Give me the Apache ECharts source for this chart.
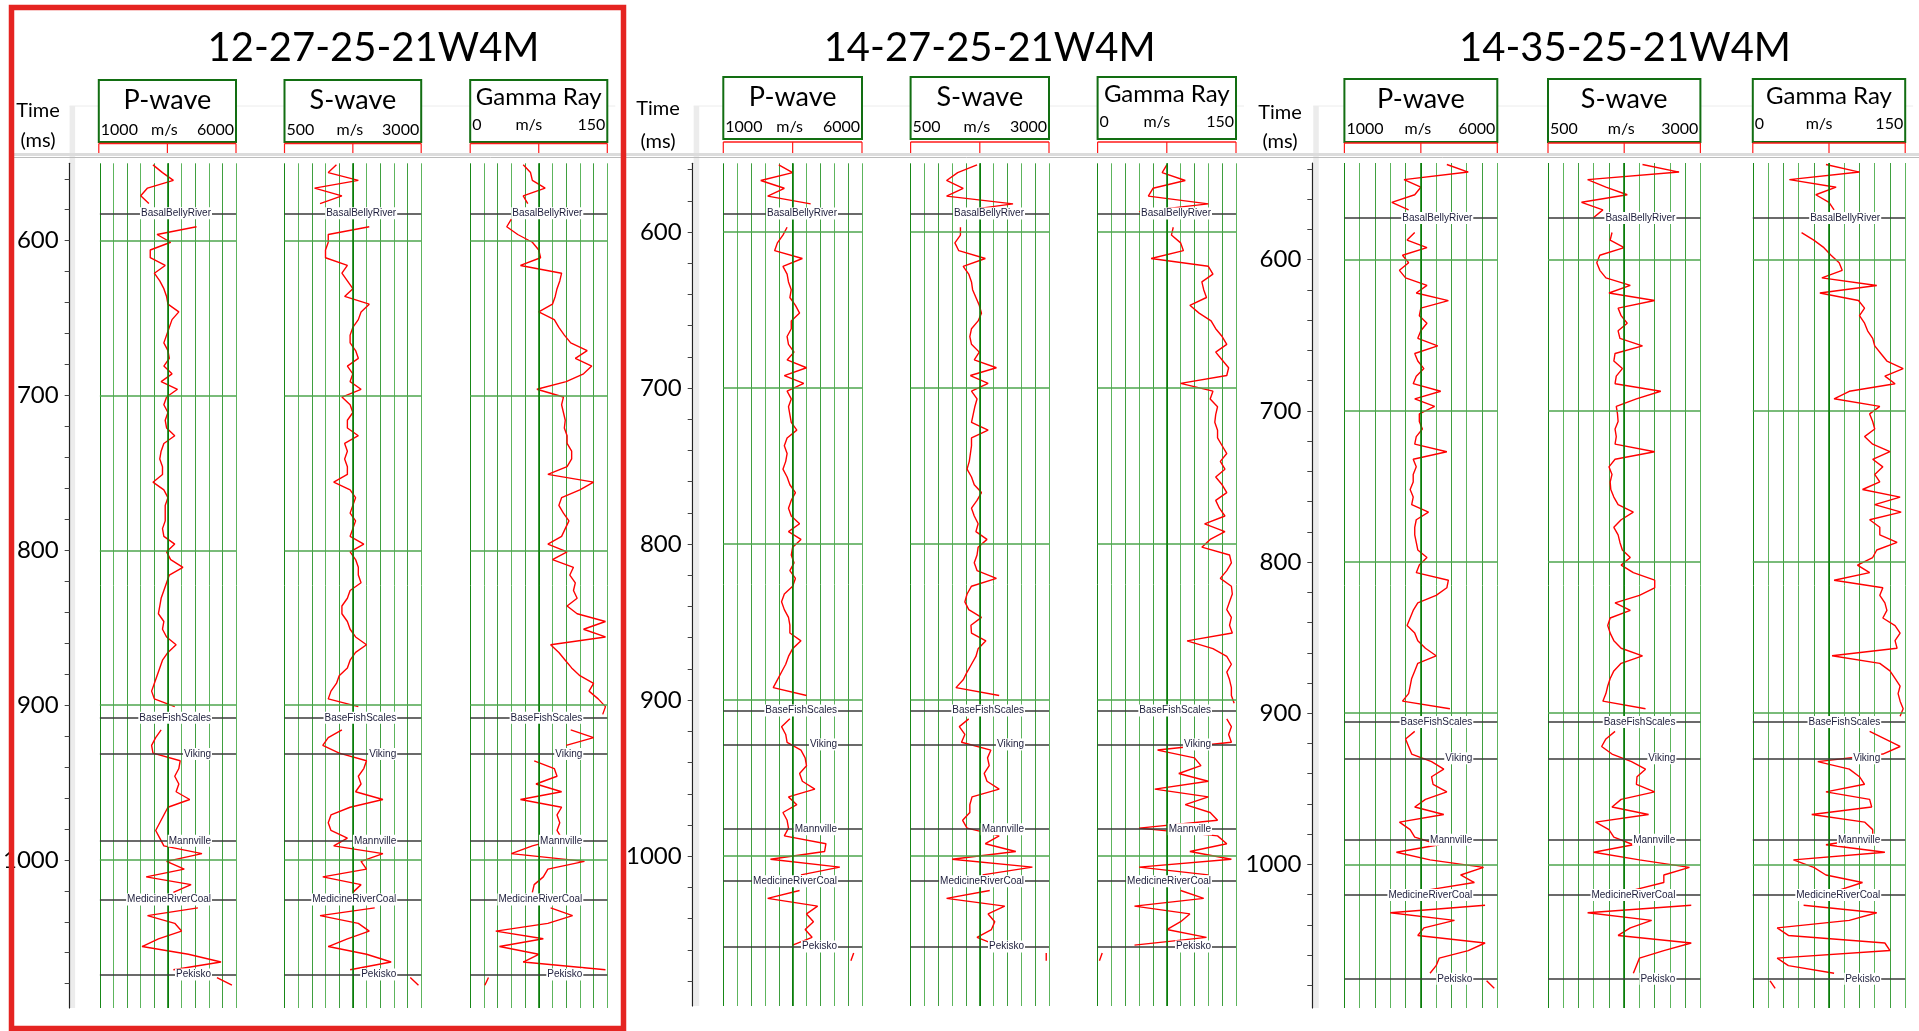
<!DOCTYPE html>
<html>
<head>
<meta charset="utf-8">
<script src="https://cdn.jsdelivr.net/npm/echarts@6/dist/echarts.min.js"></script>
<style>html,body{margin:0;padding:0;background:#fff;}#c{width:1919px;height:1031px;}</style>
</head>
<body>
<div id="c"></div>
<script>
// ---------------- DATA ----------------
const wellNames = ['12-27-25-21W4M', '14-27-25-21W4M', '14-35-25-21W4M'];
const trackNames = ['P-wave', 'S-wave', 'Gamma Ray'];
const trackMin = [1000, 500, 0];
const trackMax = [6000, 3000, 150];
const trackUnit = 'm/s';
const formationNames = ['BasalBellyRiver', 'BaseFishScales', 'Viking', 'Mannville', 'MedicineRiverCoal', 'Pekisko'];
const well1Tops = [582.3, 908.2, 931.6, 987.7, 1025.6, 1074.0];
const well2Tops = [588.2, 906.6, 928.4, 982.7, 1016.0, 1057.9];
const well3Tops = [572.4, 905.8, 929.8, 983.7, 1020.3, 1075.7];
const timeLabels = [600, 700, 800, 900, 1000];
const timeTicksA = [560,580,600,620,640,660,680,700,720,740,760,780,800,820,840,860,880,900,920,940,960,980,1000,1020,1040,1060,1080];
const timeTicksB = [540,560,580,600,620,640,660,680,700,720,740,760,780,800,820,840,860,880,900,920,940,960,980,1000,1020,1040,1060,1080];

const well1Time = [551,556,561,566,571,576,581,586,591,596,
 601,606,611,616,621,626,631,636,641,646,
 651,656,661,666,671,676,681,686,691,696,
 701,706,711,716,721,726,731,736,741,746,
 751,756,761,766,771,776,781,786,791,796,
 801,806,811,816,821,826,831,836,841,846,
 851,856,861,866,871,876,881,886,891,896,
 901,906,911,916,921,926,931,936,941,946,
 951,956,961,966,971,976,981,986,991,996,
 1001,1006,1011,1016,1021,1026,1031,1036,1041,1046,
 1051,1056,1061,1066,1071,1074,1076,1081];
const well1P = [2950,3300,3700,2750,2500,2800,null,null,4550,3100,
 3600,2850,2850,3400,3000,3200,3350,3450,3500,3900,
 3650,3550,3450,3350,3500,3550,3350,3650,3250,3850,
 3450,3350,3500,3400,3450,3750,3350,3250,3200,3300,
 3300,2950,3350,3500,3400,3400,3400,3300,3350,3750,
 3450,3600,4050,3550,3450,3350,3250,3200,3150,3350,
 3300,3450,3800,3500,3300,3200,3100,3000,2900,3000,
 3750,null,null,3250,3050,2900,2950,3950,3900,3750,
 3900,3800,4300,3500,3350,3200,3050,3200,3350,4750,
 3450,4100,2700,4350,3700,null,4600,2750,3750,4000,
 3150,2550,4250,5450,3700,null,5300,5850];
const well1S = [1450,1300,1850,1050,1550,1150,null,null,2050,1300,
 1300,1250,1250,1650,1550,1650,1750,1600,2050,1900,
 1850,1750,1700,1700,1800,1850,1650,1750,1700,1900,
 1550,1700,1750,1650,1650,1850,1600,1650,1600,1650,
 1650,1400,1700,1800,1750,1700,1800,1750,1700,1950,
 1700,1800,1850,1850,1900,1700,1650,1550,1550,1650,
 1700,1800,2000,1800,1700,1650,1500,1450,1350,1300,
 1850,null,null,1550,1300,1200,1500,2000,1950,1850,
 1900,1800,2300,1700,1350,1300,1350,1650,1400,2300,
 1900,2000,1200,1900,1750,null,2150,1150,1850,2050,
 1650,1300,2000,2450,1700,null,2800,2950];
const well1GR = [58,66,68,82,58,63,null,45,40,52,
 68,75,77,55,100,98,95,93,90,75,
 92,97,103,110,128,115,133,124,105,73,
 102,100,102,104,103,106,106,111,111,106,
 85,135,120,100,97,102,108,104,100,85,
 106,90,113,109,115,113,117,106,117,148,
 124,148,88,97,104,111,120,135,130,140,
 148,145,null,110,135,105,null,70,92,95,
 72,100,55,100,95,98,95,100,68,45,
 125,85,80,70,68,null,88,112,85,28,
 80,32,75,58,148,null,20,16];

const well2Time = [557,562,567,572,577,582,587,592,597,602,
 607,612,617,622,627,632,637,642,647,652,
 657,662,667,672,677,682,687,692,697,702,
 707,712,717,722,727,732,737,742,747,752,
 757,762,767,772,777,782,787,792,797,802,
 807,812,817,822,827,832,837,842,847,852,
 857,862,867,872,877,882,887,892,897,902,
 907,912,917,922,927,932,937,942,947,952,
 957,962,967,972,977,982,987,992,997,1002,
 1007,1012,1017,1022,1027,1032,1037,1042,1047,1052,
 1057,1059,1062,1067];
const well2P = [3000,3500,2350,3200,2600,4150,null,null,3300,3150,
 2950,2850,3850,3150,3300,3350,3450,3400,3600,3750,
 3450,3450,3300,3350,3550,3300,4000,3200,3900,3300,
 3450,3350,3400,3450,3650,3300,3200,3300,3250,3150,
 3300,3400,3600,3450,3350,3450,3750,3350,3800,3500,
 3450,3550,3400,3600,3500,3200,3100,3200,3350,3400,
 3400,3800,3500,3350,3250,3100,2950,2800,4000,null,
 null,3400,3100,3250,3300,3800,3950,4000,3750,3850,
 4300,3350,3650,3150,3300,3350,3200,4700,4650,2700,
 5200,3800,null,3750,2600,4400,4000,4250,3950,4200,
 3500,null,5700,5600];
const well2S = [1700,1350,1150,1450,1150,2350,1300,null,1400,1400,
 1300,1370,1850,1450,1550,1600,1620,1680,1740,1780,
 1720,1600,1570,1600,1740,1650,2050,1580,1900,1600,
 1700,1660,1630,1600,1900,1600,1600,1580,1560,1520,
 1600,1650,1780,1700,1600,1650,1720,1680,1880,1720,
 1700,1650,1700,2050,1600,1520,1480,1550,1780,1590,
 1600,1860,1720,1680,1600,1520,1450,1320,2100,null,
 null,1550,1380,1480,1420,1950,1890,1920,1830,1880,
 2100,1610,1570,1570,1440,1520,2100,1850,2400,1250,
 2700,1800,null,1930,1150,2200,1900,2020,1960,1700,
 2050,null,2950,2950];
const well2GR = [75,70,95,60,55,120,45,null,82,80,
 90,93,58,120,125,113,115,118,100,110,
 123,128,135,140,128,135,142,140,90,125,
 122,130,128,127,130,130,135,140,133,138,
 128,135,140,128,132,138,116,138,122,113,
 143,145,140,133,145,146,143,140,145,143,
 146,97,125,140,145,140,143,145,145,148,
 null,140,145,142,145,65,105,112,88,120,
 62,120,95,122,130,45,130,140,100,145,
 45,120,null,90,115,40,100,90,75,118,
 40,null,5,2];

const well3Time = [537,542,547,552,557,562,567,572,577,582,
 587,592,597,602,607,612,617,622,627,632,
 637,642,647,652,657,662,667,672,677,682,
 687,692,697,702,707,712,717,722,727,732,
 737,742,747,752,757,762,767,772,777,782,
 787,792,797,802,807,812,817,822,827,832,
 837,842,847,852,857,862,867,872,877,882,
 887,892,897,902,907,912,917,922,927,932,
 937,942,947,952,957,962,967,972,977,982,
 987,992,997,1002,1007,1012,1017,1022,1027,1032,
 1037,1042,1047,1052,1057,1062,1067,1072,1075,1077,1082];
const well3P = [4350,5050,2950,3500,3300,2550,3100,null,null,3300,
 3050,3700,2900,3100,2800,3000,3700,3350,4400,3500,
 3450,3700,3500,3400,4050,3300,3400,3600,3350,3250,
 4150,3300,3950,3450,3450,3550,3350,3300,4350,3250,
 3350,3250,3250,3150,3250,3200,3750,3350,3300,3300,
 3350,3400,3700,3450,3350,4400,4350,4000,3400,3250,
 3150,3050,3300,3400,3650,4000,3400,3300,3200,3150,
 3100,2900,4450,null,null,3300,3000,3100,3200,3850,
 4250,3850,3900,4350,3650,3300,4250,2800,3150,3300,
 4100,2700,3800,5550,4800,5250,3700,null,5600,2500,
 4600,3600,3400,5600,5050,4100,4000,3800,null,5650,5900];
const well3S = [2050,2650,1150,1450,1800,1050,1400,1250,null,1550,
 1520,1750,1350,1300,1350,1450,1850,1500,2250,1650,
 1700,1800,1650,1680,2050,1600,1580,1720,1620,1600,
 2350,1950,1620,1640,1650,1600,1620,1600,2250,1600,
 1500,1550,1520,1530,1580,1650,1900,1700,1580,1650,
 1680,1720,1850,1700,1900,2250,2250,2000,1600,1850,
 1520,1480,1520,1580,1700,2050,1700,1580,1520,1480,
 1450,1400,2100,null,null,1600,1450,1380,1550,1870,
 2100,1960,1950,2250,1700,1550,2150,1280,1500,1580,
 1900,1250,2000,2820,2400,2400,1900,null,2850,1150,
 2200,1850,1650,2850,2400,2000,1950,1900,null,2800,null];
const well3GR = [72,105,36,82,62,75,80,null,null,48,
 60,70,77,85,88,68,122,66,104,110,
 105,110,113,118,120,126,132,148,130,140,
 95,80,125,115,118,120,110,118,135,118,
 128,120,125,108,145,120,146,115,125,125,
 142,122,118,103,115,80,128,125,130,132,
 128,140,145,140,142,78,125,135,140,145,
 143,145,148,145,null,115,130,145,128,64,
 95,105,110,72,115,117,58,110,118,118,
 72,130,40,60,72,108,85,null,50,122,
 95,24,35,130,135,24,35,80,null,17,22];

// ---------------- LAYOUT (pixels) ----------------
const layout = [
  {tracks: [[98.8, 236], [284.5, 421.2], [470.2, 607.3]], axisX: 68.6, top: 163.3, bottom: 1008, yMin: 550, yMax: 1095.7,
   titleX: 373.5, timeX: 38, timeY: [111, 141], boxTop: 80, boxBottom: 142, scaleY: 143.5},
  {tracks: [[723.3, 862], [910.6, 1049], [1097.6, 1236]], axisX: 692.7, top: 163.3, bottom: 1006, yMin: 556, yMax: 1096,
   titleX: 989.6, timeX: 658, timeY: [109, 141.5], boxTop: 77, boxBottom: 139, scaleY: 142},
  {tracks: [[1344.4, 1497.3], [1548, 1700.4], [1752.8, 1905.2]], axisX: 1312.3, top: 163, bottom: 1008, yMin: 536, yMax: 1095,
   titleX: 1625, timeX: 1280, timeY: [112.5, 141.5], boxTop: 79, boxBottom: 142, scaleY: 143}
];

const wells = [
  {name: wellNames[0], time: well1Time, vals: [well1P, well1S, well1GR], tops: well1Tops, ticks: timeTicksA},
  {name: wellNames[1], time: well2Time, vals: [well2P, well2S, well2GR], tops: well2Tops, ticks: timeTicksA},
  {name: wellNames[2], time: well3Time, vals: [well3P, well3S, well3GR], tops: well3Tops, ticks: timeTicksB}
];

const gridColors = ['#178717', '#5db55d', '#3f9f3f', '#5db55d', '#3f9f3f', '#0c7f0c', '#5db55d', '#3f9f3f', '#5db55d', '#3f9f3f', '#5db55d'];
const FONT = 'Lato, "Open Sans", sans-serif';

const chart = echarts.init(document.getElementById('c'), null, {renderer: 'canvas'});
const grid = [], xAxis = [], yAxis = [], series = [];

wells.forEach((w, wi) => {
  const L = layout[wi];
  trackNames.forEach((tn, k) => {
    const g = wi * 3 + k;
    const l = L.tracks[k][0], r = L.tracks[k][1];
    grid.push({left: l, top: L.top, width: r - l, height: L.bottom - L.top});
    xAxis.push({
      gridIndex: g, type: 'value', min: trackMin[k], max: trackMax[k],
      interval: (trackMax[k] - trackMin[k]) / 10,
      axisLine: {show: false}, axisTick: {show: false}, axisLabel: {show: false},
      splitLine: {show: true, lineStyle: {color: gridColors, width: 1}}
    });
    const isTime = k === 0;
    yAxis.push({
      gridIndex: g, type: 'value', inverse: true, min: L.yMin, max: L.yMax, position: 'left',
      offset: isTime ? (l - L.axisX) : 0,
      axisLine: {show: isTime, onZero: false, lineStyle: {color: '#222', width: 1.2}},
      axisTick: {show: isTime, customValues: w.ticks, length: 5, inside: false, lineStyle: {color: '#444', width: 1}},
      axisLabel: {show: isTime, customValues: timeLabels, fontSize: 24, fontFamily: FONT, color: '#000', margin: 11,
        formatter: v => String(v)},
      splitLine: {show: false}
    });
    const center = (trackMin[k] + trackMax[k]) / 2;
    const mlData = [];
    timeLabels.forEach(v => mlData.push({yAxis: v, lineStyle: {color: '#4ea64e', width: 1.5, type: 'solid'}}));
    mlData.push({xAxis: center, lineStyle: {color: '#0b7d0b', width: 1.6, type: 'solid'}});
    w.tops.forEach(v => mlData.push({yAxis: v, lineStyle: {color: '#3a3a3a', width: 1.5, type: 'solid'}}));
    series.push({
      type: 'line', xAxisIndex: g, yAxisIndex: g, z: 1, silent: true,
      data: [[trackMin[k], L.yMin]], showSymbol: false, lineStyle: {width: 0, opacity: 0},
      markLine: {silent: true, symbol: ['none', 'none'], animation: false, label: {show: false}, data: mlData}
    });
    const vals = w.vals[k];
    series.push({
      type: 'line', name: w.name + ' ' + tn, xAxisIndex: g, yAxisIndex: g, z: 3,
      showSymbol: false, symbol: 'none', connectNulls: false, silent: true,
      lineStyle: {color: '#ff0000', width: 1.4},
      data: w.time.map((t, i) => [vals[i] == null ? '-' : vals[i], t])
    });
  });
});

chart.setOption({animation: false, backgroundColor: '#ffffff', grid, xAxis, yAxis, series});

// ---------------- DECORATION ----------------
const els = [];
els.push({type: 'rect', shape: {x: 14, y: 153, width: 1905, height: 3}, style: {fill: '#dcdcdc'}, z: 5});
els.push({type: 'line', shape: {x1: 14, y1: 157.5, x2: 1919, y2: 157.5}, style: {stroke: '#bcbcbc', lineWidth: 1}, z: 5});

wells.forEach((w, wi) => {
  const L = layout[wi];
  els.push({type: 'text', x: L.titleX, y: 48, z: 10,
    style: {text: w.name, fontSize: 40, fontFamily: FONT, fill: '#000', align: 'center', verticalAlign: 'middle'}});
  els.push({type: 'text', x: L.timeX, y: L.timeY[0], z: 10,
    style: {text: 'Time', fontSize: 20, fontFamily: FONT, fill: '#000', align: 'center', verticalAlign: 'middle'}});
  els.push({type: 'text', x: L.timeX, y: L.timeY[1], z: 10,
    style: {text: '(ms)', fontSize: 20, fontFamily: FONT, fill: '#000', align: 'center', verticalAlign: 'middle'}});
  els.push({type: 'rect', shape: {x: L.axisX + 1, y: 106, width: 5.5, height: L.bottom - 106}, style: {fill: '#ececec'}, z: 0});
  els.push({type: 'line', shape: {x1: L.axisX + 1, y1: 106, x2: L.tracks[2][1] + 8, y2: 106}, style: {stroke: '#ececec', lineWidth: 1}, z: 0});
  trackNames.forEach((tn, k) => {
    const g = wi * 3 + k;
    const l = L.tracks[k][0], r = L.tracks[k][1], c = (l + r) / 2;
    const isGR = k === 2;
    els.push({type: 'rect', shape: {x: l, y: L.boxTop, width: r - l, height: L.boxBottom - L.boxTop},
      style: {fill: '#ffffff', stroke: '#126e12', lineWidth: 2}, z: 8});
    els.push({type: 'text', x: c, y: L.boxTop + (isGR ? 17 : 20), z: 10,
      style: {text: tn, fontSize: isGR ? 24 : 27, fontFamily: FONT, fill: '#000', align: 'center', verticalAlign: 'middle'}});
    const sy = L.boxTop + (isGR ? 44.5 : 49.5);
    els.push({type: 'text', x: l + 2, y: sy, z: 10,
      style: {text: String(trackMin[k]), fontSize: 16, fontFamily: FONT, fill: '#000', align: 'left', verticalAlign: 'middle'}});
    els.push({type: 'text', x: c - (isGR ? 10 : 3), y: sy, z: 10,
      style: {text: trackUnit, fontSize: 16, fontFamily: FONT, fill: '#000', align: 'center', verticalAlign: 'middle'}});
    els.push({type: 'text', x: r - 2, y: sy, z: 10,
      style: {text: String(trackMax[k]), fontSize: 16, fontFamily: FONT, fill: '#000', align: 'right', verticalAlign: 'middle'}});
    els.push({type: 'line', shape: {x1: l, y1: L.scaleY, x2: r, y2: L.scaleY}, style: {stroke: '#ff1a1a', lineWidth: 1.5}, z: 9});
    [l, c, r].forEach(x => els.push({type: 'line', shape: {x1: x, y1: L.scaleY, x2: x, y2: 153}, style: {stroke: '#ff1a1a', lineWidth: 1.2}, z: 9}));
    w.tops.forEach((t, fi) => {
      const p = chart.convertToPixel({gridIndex: g}, [trackMax[k], t]);
      els.push({type: 'text', x: p[0] - 24, y: p[1], z: 20,
        style: {text: formationNames[fi], fontSize: 10, fontFamily: '"Liberation Sans", Arial, sans-serif', fill: '#1e1e3c',
          align: 'right', verticalAlign: 'middle', backgroundColor: '#ffffff', padding: [1, 1]}});
    });
  });
});

els.push({type: 'rect', shape: {x: 11.5, y: 7.5, width: 612, height: 1021}, style: {fill: 'none', stroke: '#e52421', lineWidth: 5.5}, z: 100});

chart.setOption({graphic: {elements: els}});
</script>
</body>
</html>
